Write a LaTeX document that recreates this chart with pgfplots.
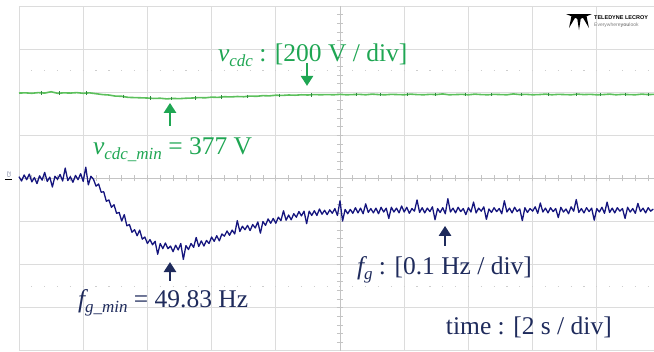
\documentclass[border=0pt]{standalone}
\usepackage{fontspec}
\setmainfont{Liberation Serif}
\setsansfont{Liberation Sans}
\usepackage{pgfplots}
\pgfplotsset{compat=1.18}
\usetikzlibrary{arrows.meta}
\definecolor{gridc}{HTML}{DCDCDC}
\definecolor{axc}{HTML}{C4C4C4}
\definecolor{trgreen}{HTML}{5CC05C}
\definecolor{dkgreen}{HTML}{2E8B3E}
\definecolor{txgreen}{HTML}{1FA653}
\definecolor{trblue}{HTML}{15157E}
\definecolor{txnavy}{HTML}{1F2B5C}
\newcommand{\sbs}[1]{\raisebox{-5pt}{\fontsize{17}{18}\selectfont\itshape #1}}
\newcommand{\lbl}{\fontsize{25.5}{30}\selectfont}
\begin{document}
\begin{tikzpicture}
\begin{axis}[
  scale only axis, width=635pt, height=344.8pt,
  xmin=0, xmax=9.891, ymin=-4, ymax=4,
  axis line style={draw=none},
  xtick={0,1,...,9}, ytick={-4,-3,...,4},
  xticklabels={}, yticklabels={},
  tick label style={opacity=0},
  major tick length=0pt,
  grid=major, grid style={gridc, line width=0.8pt},
  clip=false,
]
\coordinate (tl) at (rel axis cs:0,1);
\coordinate (br) at (rel axis cs:1,0);
% dotted lines
\draw[gridc!85!gray, line width=1.2pt, dash pattern=on 1.2pt off 11.64pt] (axis cs:0.191,2.5) -- (axis cs:9.891,2.5);
\draw[gridc!85!gray, line width=1.2pt, dash pattern=on 1.2pt off 11.64pt] (axis cs:0.191,-2.5) -- (axis cs:9.891,-2.5);
% centre lines with ticks
\draw[axc, line width=0.8pt] (axis cs:0,0) -- (axis cs:9.891,0);
\draw[axc, line width=0.8pt] (axis cs:5,-4) -- (axis cs:5,4);
\pgfplotsinvokeforeach{0.2,0.4,...,9.81}{\draw[axc, line width=0.7pt] (axis cs:#1,-0.07) -- (axis cs:#1,0.07);}
\pgfplotsinvokeforeach{-3.8,-3.6,...,3.81}{\draw[axc, line width=0.7pt] (axis cs:4.953,#1) -- (axis cs:5.047,#1);}
% green trace
\addplot[trgreen, line width=1.6pt] coordinates {
(0,1.98)(0.1,1.985)(0.2,1.975)(0.3,1.99)(0.4,1.98)(0.5,2.01)(0.6,1.975)(0.7,1.985)(0.8,1.98)(0.9,1.99)(1.0,1.975)(1.1,1.985)(1.2,1.965)(1.3,1.945)(1.4,1.935)(1.5,1.91)(1.6,1.905)(1.7,1.88)(1.8,1.875)(1.9,1.87)(2.0,1.865)(2.1,1.855)(2.2,1.86)(2.3,1.845)(2.4,1.855)(2.5,1.85)(2.6,1.86)(2.7,1.865)(2.8,1.875)(2.9,1.87)(3.0,1.885)(3.1,1.88)(3.2,1.895)(3.3,1.89)(3.4,1.90)(3.5,1.895)(3.6,1.91)(3.7,1.905)(3.8,1.92)(3.9,1.915)(4.0,1.93)(4.1,1.925)(4.2,1.935)(4.3,1.93)(4.4,1.94)(4.5,1.935)(4.6,1.945)(4.7,1.94)(4.8,1.945)(4.9,1.94)(5.0,1.95)(5.1,1.94)(5.2,1.945)(5.3,1.95)(5.4,1.94)(5.5,1.955)(5.6,1.945)(5.7,1.94)(5.8,1.95)(5.9,1.945)(6.0,1.94)(6.1,1.955)(6.2,1.945)(6.3,1.94)(6.4,1.95)(6.5,1.945)(6.6,1.96)(6.7,1.94)(6.8,1.945)(6.9,1.95)(7.0,1.94)(7.1,1.955)(7.2,1.945)(7.3,1.94)(7.4,1.95)(7.5,1.945)(7.6,1.94)(7.7,1.96)(7.8,1.945)(7.9,1.95)(8.0,1.94)(8.1,1.945)(8.2,1.955)(8.3,1.94)(8.4,1.95)(8.5,1.945)(8.6,1.94)(8.7,1.955)(8.8,1.945)(8.9,1.95)(9.0,1.94)(9.1,1.945)(9.2,1.955)(9.3,1.94)(9.4,1.95)(9.5,1.945)(9.6,1.94)(9.7,1.955)(9.8,1.945)(9.89,1.95)};
\addplot[only marks, mark=|, mark size=1.8pt, dkgreen, mark options={line width=0.6pt}] coordinates {
(0.35,1.985)(0.62,1.975)(1.05,1.98)(1.62,1.90)(2.05,1.863)(2.38,1.853)(2.75,1.868)(3.15,1.888)(3.55,1.90)(4.05,1.928)(4.55,1.938)(5.25,1.947)(5.62,1.945)(6.05,1.947)(6.48,1.948)(6.95,1.946)(7.35,1.945)(7.82,1.947)(8.25,1.948)(8.68,1.95)(9.05,1.943)(9.45,1.948)(9.8,1.945)};
% blue trace
\addplot[trblue, line width=1.3pt, line join=round] coordinates {
(0,0.04)(0.04,-0.06)(0.08,0.08)(0.12,-0.03)(0.16,0.10)(0.20,-0.08)(0.24,0.02)(0.28,-0.12)(0.32,0.06)(0.36,-0.04)(0.40,0.14)(0.44,-0.07)(0.48,0.03)(0.52,-0.20)(0.56,0.05)(0.60,-0.02)(0.64,0.09)(0.68,-0.06)(0.72,0.24)(0.76,-0.05)(0.80,0.04)(0.84,-0.09)(0.88,0.07)(0.92,-0.03)(0.96,0.11)(1.00,-0.07)(1.04,0.26)(1.08,-0.15)(1.12,0.05)
(1.16,-0.02)(1.20,-0.18)(1.24,-0.13)(1.28,-0.32)(1.32,-0.31)(1.36,-0.53)(1.40,-0.50)(1.44,-0.67)(1.48,-0.61)(1.52,-0.81)(1.56,-0.79)(1.60,-0.99)(1.64,-0.84)(1.68,-1.10)(1.72,-1.07)(1.76,-1.25)(1.80,-1.19)(1.84,-1.33)(1.88,-1.20)(1.92,-1.41)(1.96,-1.36)(2.00,-1.51)(2.04,-1.42)(2.08,-1.54)(2.12,-1.46)(2.16,-1.76)(2.20,-1.51)(2.24,-1.63)(2.28,-1.50)(2.32,-1.63)(2.36,-1.57)(2.40,-1.70)(2.44,-1.55)(2.48,-1.66)(2.52,-1.51)(2.56,-1.88)(2.60,-1.56)(2.64,-1.65)(2.68,-1.51)(2.72,-1.60)(2.76,-1.37)(2.80,-1.58)(2.84,-1.45)(2.88,-1.57)(2.92,-1.44)(2.96,-1.51)(3.00,-1.36)(3.04,-1.46)(3.08,-1.33)(3.12,-1.45)(3.16,-1.29)(3.20,-1.34)(3.24,-1.22)(3.28,-1.32)(3.32,-1.20)(3.36,-1.29)(3.40,-0.98)(3.44,-1.23)(3.48,-1.11)(3.52,-1.19)(3.56,-1.09)(3.60,-1.21)(3.64,-1.07)(3.68,-1.15)(3.72,-1.01)(3.76,-1.27)(3.80,-1.00)(3.84,-1.09)(3.88,-0.94)(3.92,-1.04)(3.96,-0.93)(4.00,-1.04)(4.04,-0.90)(4.08,-0.98)(4.12,-0.75)(4.16,-0.97)(4.20,-0.85)(4.24,-0.96)(4.28,-0.82)(4.32,-0.90)(4.36,-0.77)(4.40,-0.87)(4.44,-0.76)(4.48,-1.05)(4.52,-0.76)(4.56,-0.86)(4.60,-0.75)(4.64,-0.86)(4.68,-0.71)(4.72,-0.83)(4.76,-0.74)(4.80,-0.84)(4.84,-0.73)(4.88,-0.81)(4.92,-0.70)(4.96,-0.86)
(5.00,-0.52)(5.04,-0.99)(5.08,-0.72)(5.12,-0.82)(5.16,-0.72)(5.20,-0.81)(5.24,-0.68)(5.28,-0.80)(5.32,-0.69)(5.36,-0.82)(5.40,-0.59)(5.44,-0.79)(5.48,-0.70)(5.52,-0.80)(5.56,-0.69)(5.60,-0.82)(5.64,-0.67)(5.68,-0.78)(5.72,-0.69)(5.76,-0.93)(5.80,-0.67)(5.84,-0.78)(5.88,-0.69)(5.92,-0.80)(5.96,-0.64)
(6.00,-0.78)(6.04,-0.67)(6.08,-0.81)(6.12,-0.70)(6.16,-0.76)(6.20,-0.50)(6.24,-0.79)(6.28,-0.68)(6.32,-0.80)(6.36,-0.69)(6.40,-0.77)(6.44,-0.66)(6.48,-0.96)(6.52,-0.70)(6.56,-0.79)(6.60,-0.68)(6.64,-0.82)(6.68,-0.47)(6.72,-0.78)(6.76,-0.69)(6.80,-0.80)(6.84,-0.67)(6.88,-0.77)(6.92,-0.70)(6.96,-0.84)
(7.00,-0.68)(7.04,-0.78)(7.08,-0.55)(7.12,-0.80)(7.16,-0.69)(7.20,-0.76)(7.24,-0.66)(7.28,-0.95)(7.32,-0.71)(7.36,-0.79)(7.40,-0.68)(7.44,-0.77)(7.48,-0.70)(7.52,-0.82)(7.56,-0.52)(7.60,-0.78)(7.64,-0.69)(7.68,-0.80)(7.72,-0.67)(7.76,-0.77)(7.80,-0.71)(7.84,-0.98)(7.88,-0.68)(7.92,-0.79)(7.96,-0.70)
(8.00,-0.76)(8.04,-0.66)(8.08,-0.81)(8.12,-0.57)(8.16,-0.78)(8.20,-0.69)(8.24,-0.80)(8.28,-0.68)(8.32,-0.77)(8.36,-0.70)(8.40,-0.91)(8.44,-0.67)(8.48,-0.78)(8.52,-0.71)(8.56,-0.82)(8.60,-0.66)(8.64,-0.76)(8.68,-0.49)(8.72,-0.79)(8.76,-0.70)(8.80,-0.80)(8.84,-0.68)(8.88,-0.77)(8.92,-0.69)(8.96,-0.97)
(9.00,-0.70)(9.04,-0.78)(9.08,-0.67)(9.12,-0.81)(9.16,-0.55)(9.20,-0.79)(9.24,-0.69)(9.28,-0.80)(9.32,-0.68)(9.36,-0.76)(9.40,-0.70)(9.44,-0.93)(9.48,-0.67)(9.52,-0.78)(9.56,-0.70)(9.60,-0.81)(9.64,-0.58)(9.68,-0.77)(9.72,-0.69)(9.76,-0.80)(9.80,-0.68)(9.84,-0.76)(9.88,-0.71)};
% arrows
\draw[txgreen, line width=2.7pt, -{Triangle[width=12pt,length=10pt]}] (axis cs:4.486,2.68) -- (axis cs:4.486,2.146);
\draw[txgreen, line width=2.7pt, -{Triangle[width=12pt,length=10pt]}] (axis cs:2.352,1.218) -- (axis cs:2.352,1.752);
\draw[txnavy, line width=2.7pt, -{Triangle[width=12pt,length=10pt]}] (axis cs:2.352,-2.38) -- (axis cs:2.352,-1.94);
\draw[txnavy, line width=2.7pt, -{Triangle[width=12pt,length=10pt]}] (axis cs:6.636,-1.566) -- (axis cs:6.636,-1.102);
% texts
\node[anchor=base west, inner sep=0pt, outer sep=0pt, txgreen] at (axis cs:3.10,2.703) {\lbl{\itshape v}\sbs{cdc} : [200 V / div]};
\node[anchor=base west, inner sep=0pt, outer sep=0pt, txgreen] at (axis cs:1.153,0.545) {\lbl{\itshape v}\sbs{cdc\_min} = 377 V};
\node[anchor=base west, inner sep=0pt, outer sep=0pt, txnavy] at (axis cs:0.919,-3.005) {\lbl{\itshape f}\sbs{g\_min} = 49.83 Hz};
\node[anchor=base west, inner sep=0pt, outer sep=0pt, txnavy] at (axis cs:5.265,-2.239) {\lbl{\itshape f}\sbs{g} : [0.1 Hz / div]};
\node[anchor=base west, inner sep=0pt, outer sep=0pt, txnavy] at (axis cs:6.651,-3.63) {\lbl time : [2 s / div]};
\end{axis}
% logo and channel marker in image pixel coordinates
\begin{scope}[shift={([shift={(-19pt,6pt)}]tl)}, x=1pt, y=-1pt]
\fill[black] (566,14) -- (592,14) -- (579,19.5) -- cycle;
\fill[black] (577,17) -- (581,17) -- (579,30) -- cycle;
\fill[black] (571.5,16) -- (575.5,17) -- (569,28) -- cycle;
\fill[black] (582.5,17) -- (586.5,16) -- (589,28) -- cycle;
\node[anchor=base west, inner sep=0pt] at (594,19) {\sffamily\bfseries\fontsize{5.5}{6}\selectfont TELEDYNE LECROY};
\node[anchor=base west, inner sep=0pt, gray] at (594,26) {\sffamily\fontsize{5}{6}\selectfont Everywhere\textbf{you}look};
\node[rotate=90, inner sep=0pt, txnavy!70] at (9,174.5) {\sffamily\fontsize{5}{5}\selectfont C2};
\draw[black, line width=1.2pt] (5,179.5) -- (12,179.5);
\end{scope}
\pgfresetboundingbox
\path[use as bounding box] ([shift={(-19pt,6pt)}]tl) rectangle ([shift={(0pt,-1pt)}]br);
\end{tikzpicture}
\end{document}
